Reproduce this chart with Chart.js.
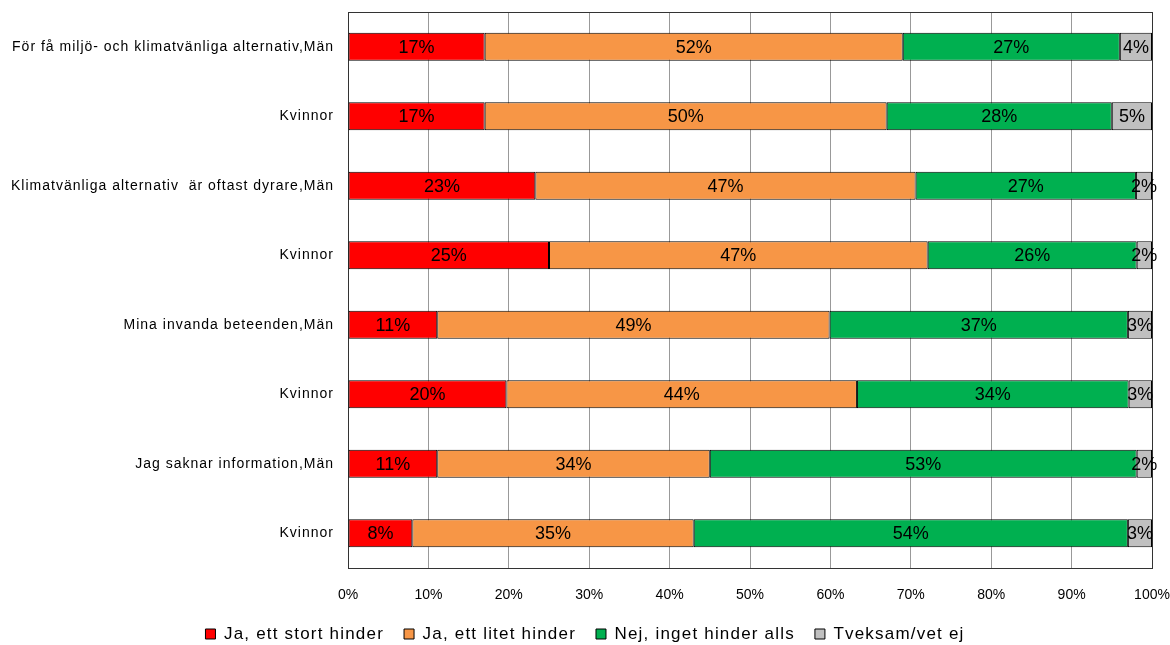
<!DOCTYPE html>
<html><head><meta charset="utf-8">
<script src="https://cdn.jsdelivr.net/npm/chart.js@4.4.1/dist/chart.umd.min.js"></script>
<style>html,body{margin:0;padding:0;background:#fff}#wrap{width:1170px;height:645px}</style>
</head><body><div id="wrap"><canvas id="c" width="1170" height="645"></canvas></div>
<script>
const categories = [
  "För få miljö- och klimatvänliga alternativ,Män",
  "Kvinnor",
  "Klimatvänliga alternativ  är oftast dyrare,Män",
  "Kvinnor",
  "Mina invanda beteenden,Män",
  "Kvinnor",
  "Jag saknar information,Män",
  "Kvinnor"
];
const seriesNames = ["Ja, ett stort hinder", "Ja, ett litet hinder", "Nej, inget hinder alls", "Tveksam/vet ej"];
const storHinder  = [17, 17, 23.3, 25, 11.1, 19.7, 11.1, 8];
const litetHinder = [52, 50, 47.3, 47.1, 48.8, 43.6, 33.9, 35];
const ingetHinder = [27, 28, 27.4, 26, 37.1, 33.8, 53.1, 54];
const vetEj       = [4, 5, 2, 1.9, 3, 2.9, 1.9, 3];
const xTicks = ["0%","10%","20%","30%","40%","50%","60%","70%","80%","90%","100%"];
const colors = ["#FF0000", "#F79646", "#00B050", "#C0C0C0"];
const FONT = "'Liberation Sans', Arial, sans-serif";

function withSpacing(obj, name, spacing) {
  const orig = obj[name].bind(obj);
  obj[name] = function(...args) {
    const ctx = this.ctx;
    ctx.save();
    ctx.letterSpacing = spacing;
    const r = orig(...args);
    ctx.restore();
    return r;
  };
}

const labelPlugin = {
  id: 'barLabels',
  beforeUpdate(chart) {
    if (chart.legend && !chart.legend._sp) {
      withSpacing(chart.legend, 'fit', '1.2px');
      withSpacing(chart.legend, 'draw', '1.2px');
      chart.legend._sp = true;
    }
  },
  afterDatasetsDraw(chart) {
    const ctx = chart.ctx;
    ctx.save();
    ctx.font = "18px " + FONT;
    ctx.fillStyle = "#000";
    ctx.textAlign = "center";
    ctx.textBaseline = "middle";
    chart.data.datasets.forEach((ds, di) => {
      const meta = chart.getDatasetMeta(di);
      meta.data.forEach((el, i) => {
        const cx = (el.x + el.base) / 2;
        ctx.fillText(Math.round(ds.data[i]) + "%", cx, el.y + 1);
      });
    });
    ctx.restore();
  },
  beforeDatasetsDraw(chart) {
    const a = chart.chartArea, ctx = chart.ctx;
    ctx.save();
    ctx.strokeStyle = "#333";
    ctx.lineWidth = 1;
    ctx.strokeRect(Math.round(a.left) + 0.5, Math.round(a.top) + 0.5, Math.round(a.right - a.left), Math.round(a.bottom - a.top));
    ctx.restore();
  }
};

new Chart(document.getElementById('c'), {
  type: 'bar',
  data: {
    labels: categories,
    datasets: [storHinder, litetHinder, ingetHinder, vetEj].map((d, i) => ({
      label: seriesNames[i],
      data: d,
      backgroundColor: colors[i],
      borderColor: "#000",
      borderWidth: 1,
      borderSkipped: false,
      categoryPercentage: 0.8,
      barPercentage: 0.5
    }))
  },
  options: {
    indexAxis: 'y',
    responsive: false,
    animation: false,
    devicePixelRatio: 1,
    layout: { padding: { left: 0, right: 0, top: 12, bottom: -7.5 } },
    scales: {
      x: {
        stacked: true, min: 0, max: 100,
        ticks: { stepSize: 10, callback: (v, i) => xTicks[i], font: { family: FONT, size: 14 }, color: "#000", padding: 19, maxRotation: 0 },
        grid: { color: "#999", drawTicks: false },
        border: { color: "#333" },
        afterFit: s => { s.height = 37.5; s.paddingRight = 18; s.paddingLeft = 0; }
      },
      y: {
        stacked: true,
        ticks: { font: { family: FONT, size: 14 }, color: "#000", padding: 14, autoSkip: false },
        grid: { display: false, drawTicks: false },
        border: { color: "#333" },
        afterFit: s => {
          s.width = 348;
          s.paddingTop = 0; s.paddingBottom = 0;
          if (!s._sp) { withSpacing(s, 'drawLabels', '1px'); s._sp = true; }
        }
      }
    },
    plugins: {
      legend: {
        position: 'bottom',
        labels: { font: { family: FONT, size: 17 }, color: "#000", boxWidth: 10, boxHeight: 10, padding: 20 }
      },
      tooltip: { enabled: false }
    }
  },
  plugins: [labelPlugin]
});
</script></body></html>
